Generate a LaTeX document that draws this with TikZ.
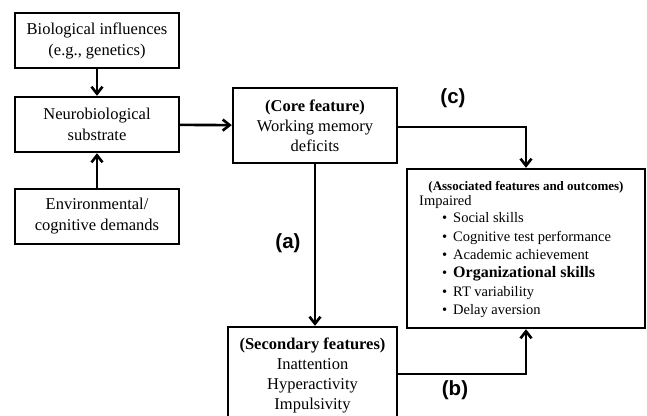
\documentclass[tikz,border=0pt]{standalone}
\usepackage{fontspec}
\setmainfont{Liberation Serif}
\newfontfamily\labelfont{Liberation Sans}
\usetikzlibrary{arrows.meta,calc}
\begin{document}
\begin{tikzpicture}[x=1pt,y=-1pt,
  box/.style={draw,line width=2.4pt,inner sep=0pt,align=center,font=\fontsize{16.5}{21}\selectfont},
  conn/.style={line width=2.6pt,-{Straight Barb[length=7pt,width=11pt]}},
  lab/.style={font=\labelfont\bfseries\fontsize{20.5}{23}\selectfont},
  item/.style={anchor=mid west,inner sep=0pt,font=\fontsize{14.5}{18}\selectfont},
  dot/.style={anchor=mid west,inner sep=0pt,font=\fontsize{14.5}{18}\selectfont}]
\clip (0,0) rectangle (647,415);
\fill[white] (0,0) rectangle (647,415);
% left column
\node[box,minimum width=164pt,minimum height=55pt] (bio) at (97,40.5) {Biological influences\\(e.g., genetics)};
\node[box,minimum width=164pt,minimum height=55pt] (neuro) at (97,124.5) {Neurobiological\\substrate};
\node[box,minimum width=164pt,minimum height=55pt] (env) at (97,216.5) {Environmental/\\cognitive demands};
% core
\node[box,minimum width=164pt,minimum height=75pt,font=\fontsize{16.5}{20}\selectfont] (core) at (315,125.5) {\textbf{(Core feature)}\\Working memory\\deficits};
% secondary (cut off at the bottom)
\node[box,minimum width=169pt,minimum height=96pt,font=\fontsize{16.5}{20}\selectfont] (sec) at (312.5,375) {\textbf{(Secondary features)}\\Inattention\\Hyperactivity\\Impulsivity};
% associated
\node[draw,line width=2.4pt,minimum width=238pt,minimum height=159pt,inner sep=0pt] (assoc) at (526,248.5) {};
\node[inner sep=0pt,font=\bfseries\fontsize{13}{16}\selectfont] (atitle) at (526,187) {(Associated features and outcomes)};
\node[item] (imp) at (419,203) {Impaired};
\node[dot] (d1) at (442,220) {•}; \node[item] (i1) at (453,220) {Social skills};
\node[dot] (d2) at (442,239) {•}; \node[item] (i2) at (453,239) {Cognitive test performance};
\node[dot] (d3) at (442,257) {•}; \node[item] (i3) at (453,257) {Academic achievement};
\node[dot] (d4) at (442,275) {•}; \node[item,font=\bfseries\fontsize{16}{18}\selectfont] (i4) at (453,275) {Organizational skills};
\node[dot] (d5) at (442,294) {•}; \node[item] (i5) at (453,294) {RT variability};
\node[dot] (d6) at (442,312) {•}; \node[item] (i6) at (453,312) {Delay aversion};
% connectors
\draw[conn] (bio) -- (neuro);
\draw[conn] (env) -- (neuro);
\draw[conn] (neuro) -- (core);
\coordinate (cstart) at ($(core.east)+(0,1.5)$);
\draw[conn] (cstart) -| (assoc.north);
\draw[conn] (core.south) -- (core.south |- sec.north);
\coordinate (bstart) at ($(sec.north east)+(0,48)$);
\draw[conn] (bstart) -| (assoc.south);
% labels
\node[lab] (la) at (288,243) {(a)};
\node[lab] (lb) at (455,390) {(b)};
\node[lab] (lc) at (453,98) {(c)};
\end{tikzpicture}
\end{document}
